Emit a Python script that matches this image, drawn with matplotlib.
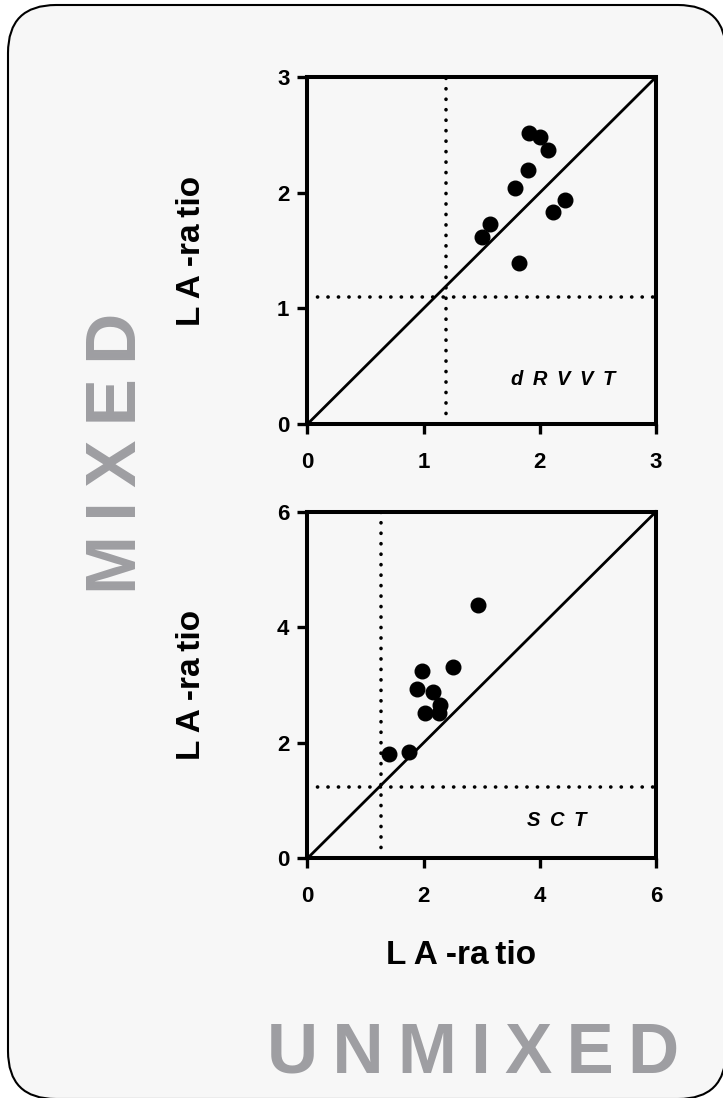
import matplotlib
matplotlib.use("Agg")
import matplotlib.pyplot as plt
from matplotlib.patches import FancyBboxPatch
from matplotlib.transforms import IdentityTransform

# LA-ratio, unmixed (x) gegen mixed (y)
drvvt_unmixed = [1.91, 2.00, 2.07, 1.90, 1.79, 2.22, 2.11, 1.57, 1.50, 1.82]
drvvt_mixed = [2.52, 2.48, 2.37, 2.20, 2.04, 1.94, 1.83, 1.73, 1.62, 1.39]
drvvt_cutoff = [1.19, 1.10]          # cut-off unmixed, mixed
drvvt_ticks = [0, 1, 2, 3]

sct_unmixed = [2.93, 2.51, 1.98, 1.88, 2.16, 2.28, 2.26, 2.03, 1.40, 1.75]
sct_mixed = [4.39, 3.31, 3.24, 2.93, 2.88, 2.66, 2.51, 2.52, 1.80, 1.84]
sct_cutoff = [1.27, 1.23]
sct_ticks = [0, 2, 4, 6]

plt.rcParams['font.family'] = ['Liberation Sans', 'DejaVu Sans']
plt.rcParams['font.weight'] = 'bold'

GRAY = '#9e9ea2'
TS = '\u2009'   # schmales Leerzeichen fuer die Sperrung
AXLABEL = "L A -ra" + TS + "tio"

fig = plt.figure(figsize=(7.23, 10.98), dpi=100)
fig.patch.set_facecolor('white')

# abgerundeter Rahmen um die ganze Abbildung (hinter den Achsen)
box = FancyBboxPatch((8, -1), 718, 1094, boxstyle="round,pad=0,rounding_size=48",
                     transform=IdentityTransform(), facecolor='#f7f7f7',
                     edgecolor='black', lw=1.5, zorder=-10)
fig.patches.append(box)

panels = [
    ([0.4253, 0.6138, 0.482, 0.316], drvvt_unmixed, drvvt_mixed, drvvt_cutoff, drvvt_ticks,
     (" " + TS).join("dRVVT"), (0.733, 0.127)),
    ([0.4253, 0.2183, 0.482, 0.3157], sct_unmixed, sct_mixed, sct_cutoff, sct_ticks,
     (" " + TS).join("SCT"), (0.716, 0.108)),
]

for rect, xs, ys, cutoff, ticks, name, name_pos in panels:
    ax = fig.add_axes(rect)
    ax.set_facecolor('none')
    top = ticks[-1]

    # Identitaetslinie und Cut-offs
    ax.plot([0, top], [0, top], color='black', lw=2.0, clip_on=False, zorder=2)
    ax.axvline(cutoff[0], color='black', lw=2.6, linestyle=(0, (0.05, 2.85)),
               dash_capstyle='round', zorder=1)
    ax.axhline(cutoff[1], color='black', lw=2.6, linestyle=(0, (0.05, 2.85)),
               dash_capstyle='round', zorder=1)

    ax.plot(xs, ys, 'o', color='black', ms=10.5, clip_on=False, zorder=3)

    ax.set_xlim(0, top)
    ax.set_ylim(0, top)
    ax.set_xticks(ticks)
    ax.set_yticks(ticks)
    for s in ax.spines.values():
        s.set_linewidth(2.9)
    ax.tick_params(axis='both', direction='out', length=7, width=2.4, labelsize=16)
    ax.tick_params(axis='x', pad=13)
    ax.tick_params(axis='y', pad=6)

    ax.set_ylabel(AXLABEL, fontsize=24, fontweight='bold', va='center')
    ax.yaxis.set_label_coords(-0.334, 0.5)

    ax.text(name_pos[0], name_pos[1], name, transform=ax.transAxes, fontsize=14.5,
            fontweight='bold', style='italic', ha='center', va='center')

ax.set_xlabel(AXLABEL, fontsize=24, fontweight='bold', va='center')
ax.xaxis.set_label_coords(0.44, -0.279)

# grosse graue Beschriftungen
fig.text(118 / 723, 1 - 453 / 1098, TS.join("MIXED"), rotation=90, color=GRAY,
         fontsize=51, fontweight='bold', ha='center', va='center')
fig.text(473.5 / 723, 1 - 1054.5 / 1098, TS.join("UNMIXED"), color=GRAY,
         fontsize=51, fontweight='bold', ha='center', va='center')

plt.savefig("out.png", dpi=100)
plt.close()
